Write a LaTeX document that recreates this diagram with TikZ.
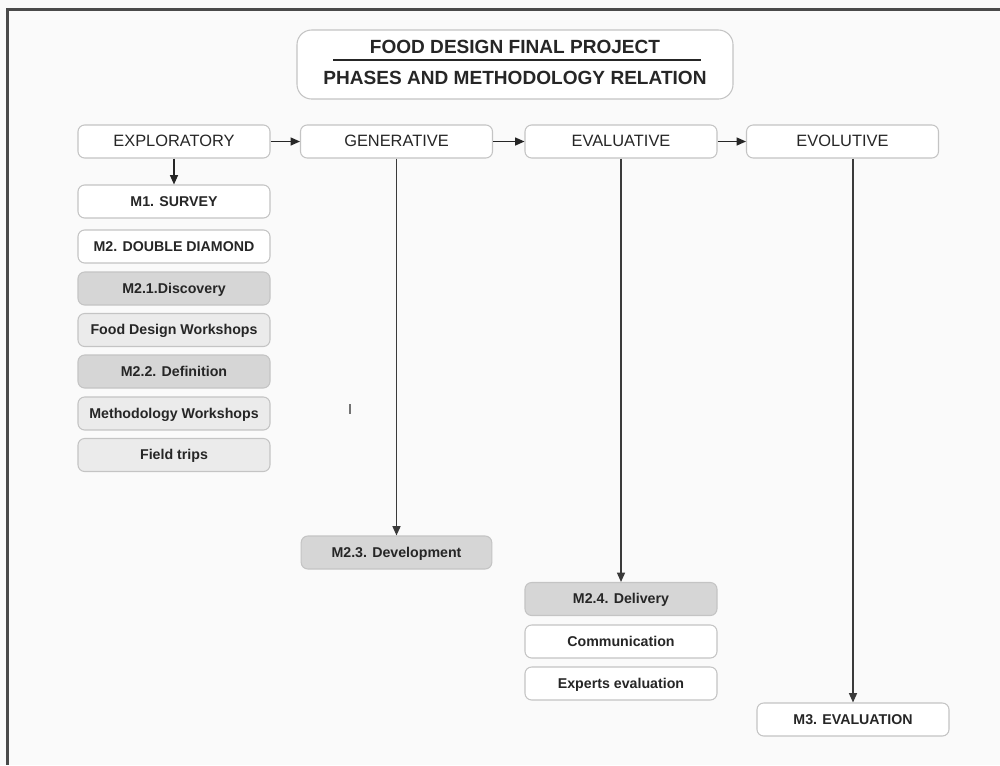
\documentclass[tikz,border=0pt]{standalone}
\usepackage{fontspec}
\setmainfont{Liberation Sans}
\usetikzlibrary{arrows.meta}

\definecolor{paper}{HTML}{FAFAFA}
\definecolor{edge}{HTML}{C4C4C4}
\definecolor{ink}{HTML}{262626}
\definecolor{boxdark}{HTML}{D6D6D6}
\definecolor{boxlight}{HTML}{EBEBEB}
\definecolor{frameline}{HTML}{4A4A4A}
\definecolor{wire}{HTML}{3A3A3A}

\tikzset{
  card/.style={draw=edge, line width=0.8pt, rounded corners=5pt, fill=white,
    minimum width=144pt, minimum height=24.75pt, inner sep=0pt,
    text=ink, text height=0.716em, text depth=0pt, align=center},
  phasebox/.style={card, font=\fontsize{12.3pt}{14pt}\selectfont},
  methodbox/.style={card, font=\bfseries\fontsize{10.65pt}{13pt}\selectfont},
  darkbox/.style={methodbox, fill=boxdark},
  lightbox/.style={methodbox, fill=boxlight},
  titlebox/.style={draw=edge, line width=0.8pt, rounded corners=11pt, fill=white,
    minimum width=327pt, minimum height=51.75pt, inner sep=0pt},
  titletext/.style={font=\bfseries\fontsize{14.3pt}{17pt}\selectfont, text=ink,
    inner sep=0pt, text height=0.716em, text depth=0pt},
  flow/.style={draw=ink, line width=0.9pt, -{Triangle[length=7pt,width=6pt]}},
  drop/.style={draw=wire, line width=1.1pt, -{Triangle[length=7pt,width=6pt]}}
}

\begin{document}
\begin{tikzpicture}[x=0.75pt,y=-0.75pt]
  % page and frame
  \fill[paper] (0,0) rectangle (1000,765);
  \useasboundingbox (0,0) rectangle (1000,765);
  \draw[frameline, line width=1.9pt] (1000,9.5) -- (7.5,9.5) -- (7.5,765);

  % heading
  \node[titlebox] (title) at (515,64.5) {};
  \node[titletext] (t1) at (515,48.5) {FOOD DESIGN FINAL PROJECT};
  \node[titletext] (t2) at (515,79.5) {PHASES AND METHODOLOGY RELATION};
  \coordinate (ruleL) at (333,60);
  \coordinate (ruleR) at (701,60);
  \draw[ink, line width=0.8pt] (ruleL) -- (ruleR);

  % phases
  \node[phasebox] (exp)  at (174,141.5)   {EXPLORATORY};
  \node[phasebox] (gen)  at (396.5,141.5) {GENERATIVE};
  \node[phasebox] (eval) at (621,141.5)   {EVALUATIVE};
  \node[phasebox] (evo)  at (842.5,141.5) {EVOLUTIVE};

  \draw[flow] (exp) -- (gen);
  \draw[flow] (gen) -- (eval);
  \draw[flow] (eval) -- (evo);

  % exploratory methods
  \node[methodbox] (m1)  at (174,201.5) {M1. SURVEY};
  \node[methodbox] (m2)  at (174,246.5) {M2. DOUBLE DIAMOND};
  \node[darkbox]   (m21) at (174,288.5) {M2.1.Discovery};
  \node[lightbox]  (fdw) at (174,330)   {Food Design Workshops};
  \node[darkbox]   (m22) at (174,371.5) {M2.2. Definition};
  \node[lightbox]  (mw)  at (174,413.5) {Methodology Workshops};
  \node[lightbox]  (ft)  at (174,455)   {Field trips};

  \draw[flow] (exp) -- (m1);

  % generative
  \node[darkbox, minimum width=143pt] (m23) at (396.5,552.5) {M2.3. Development};
  \draw[drop] (gen) -- (m23);

  % evaluative
  \node[darkbox]   (m24)  at (621,599)   {M2.4. Delivery};
  \node[methodbox] (comm) at (621,641.5) {Communication};
  \node[methodbox] (expt) at (621,683.5) {Experts evaluation};
  \draw[drop] (eval) -- (m24);

  % evolutive
  \node[methodbox] (m3) at (853,719.5) {M3. EVALUATION};
  \draw[drop] (evo.south -| m3.north) -- (m3.north);

  % small stray tick
  \coordinate (tickA) at (350,404);
  \coordinate (tickB) at (350,414);
  \draw[black!55, line width=1pt] (tickA) -- (tickB);
\end{tikzpicture}
\end{document}
